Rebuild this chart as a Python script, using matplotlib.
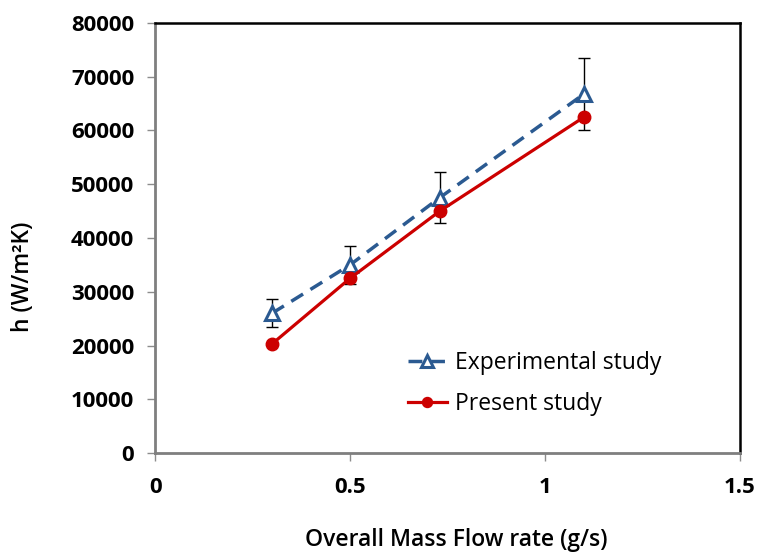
import matplotlib
matplotlib.use("Agg")
import matplotlib.pyplot as plt

# mass flow rate (g/s) and heat transfer coefficient h (W/m2K)
flow_rate = [0.3, 0.5, 0.73, 1.1]
h_experimental = [26000, 35000, 47500, 66800]
h_err = [2600, 3500, 4800, 6700]
h_present = [20300, 32500, 45000, 62500]

x_ticks = [0, 0.5, 1, 1.5]
x_ticklabels = ['0', '0.5', '1', '1.5']
y_ticks = [0, 10000, 20000, 30000, 40000, 50000, 60000, 70000, 80000]

plt.rcParams['font.family'] = ['Open Sans', 'DejaVu Sans']

fig = plt.figure(figsize=(7.64, 5.54), dpi=100)
ax = fig.add_axes([0.203, 0.1823, 0.7656, 0.7762])

blue = '#2B5A91'
red = '#CC0000'

ax.errorbar(flow_rate, h_experimental, yerr=h_err, fmt='none', ecolor='black',
            elinewidth=1.0, capsize=4, capthick=1.0, zorder=2)
ax.plot(flow_rate, h_experimental, color=blue, linestyle=(0, (4, 2.5)), lw=2.5,
        marker='^', markersize=10, markerfacecolor='white', markeredgecolor=blue,
        markeredgewidth=2.2, label='Experimental study', zorder=3)
ax.plot(flow_rate, h_present, color=red, lw=2.3, marker='o', markersize=9,
        markerfacecolor=red, markeredgecolor=red, label='Present study', zorder=4)

ax.set_xlim(0, 1.5)
ax.set_ylim(0, 80000)
ax.set_xticks(x_ticks)
ax.set_xticklabels(x_ticklabels)
ax.set_yticks(y_ticks)

for side in ['top', 'right']:
    ax.spines[side].set_color('black')
    ax.spines[side].set_linewidth(1.8)
for side in ['left', 'bottom']:
    ax.spines[side].set_color('#7f7f7f')
    ax.spines[side].set_linewidth(2.0)

ax.tick_params(axis='both', direction='out', length=6, width=1, color='#8c8c8c',
               labelsize=16)
ax.tick_params(axis='x', pad=11)
ax.tick_params(axis='y', pad=9)
for lab in ax.get_xticklabels() + ax.get_yticklabels():
    lab.set_fontweight('bold')

ax.set_xlabel('Overall Mass Flow rate (g/s)', fontsize=16.5, fontweight='semibold')
ax.xaxis.set_label_coords(0.515, -0.175)
ax.set_ylabel('h (W/m²K)', fontsize=16.5, fontweight='semibold')
ax.yaxis.set_label_coords(-0.205, 0.41)

leg = ax.legend(loc='upper left', bbox_to_anchor=(0.432, 0.238), frameon=False,
                fontsize=16.5, handlelength=1.7, handletextpad=0.35,
                labelspacing=0.75, borderpad=0, borderaxespad=0, markerscale=0.8)

fig.savefig('out.png', dpi=100)
